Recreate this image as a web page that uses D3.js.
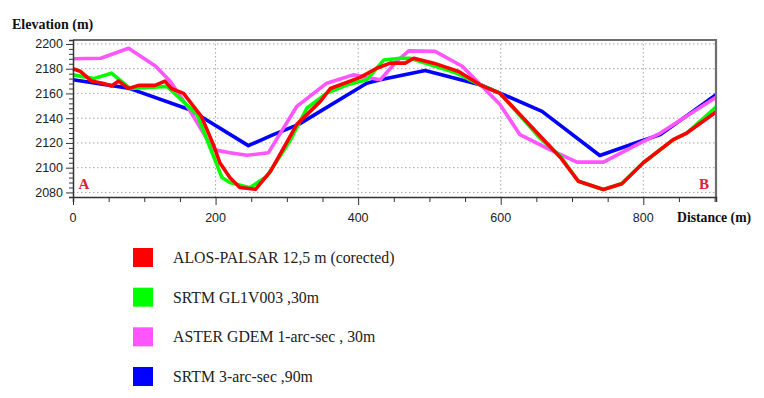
<!DOCTYPE html>
<html>
<head>
<meta charset="utf-8">
<script src="https://d3js.org/d3.v7.min.js"></script>
<style>
  body { margin: 0; background: #fff; }
  svg { display: block; }
</style>
</head>
<body>
<div id="my_profile"></div>
<script>

// ======================= //
// DATA
// ======================= //

// ALOS-PALSAR (red)
var alosDist = [0, 10, 26, 43, 54, 64, 78, 92, 115, 129, 138, 155, 180, 197, 206, 220, 234, 256, 277, 314, 347, 361, 403, 426, 445, 466, 478, 506, 541, 571, 599, 684, 709, 744, 770, 800, 842, 861, 902]
var alosElev = [2180, 2178, 2170, 2168, 2166, 2170, 2164, 2166.5, 2166.5, 2170, 2164, 2160, 2141.5, 2118.6, 2104, 2092, 2084, 2082.5, 2097, 2135, 2153.6, 2164, 2173, 2180.4, 2184.5, 2184.5, 2188.5, 2184.5, 2177.8, 2167, 2160, 2108, 2089, 2082.4, 2087, 2104, 2122.7, 2128, 2145]

// SRTM GL1 (green)
var gl1Dist = [0, 29, 54, 80, 132, 174, 209, 220, 248, 272, 304, 328, 356, 385, 412, 436, 459, 473, 538, 571, 599, 655, 684, 709, 744, 770, 800, 842, 861, 902]
var gl1Elev = [2175, 2172, 2176.4, 2164, 2165.7, 2143, 2092, 2088, 2083.8, 2093, 2121.4, 2148, 2160.3, 2167, 2171, 2187, 2188.5, 2188.5, 2176.4, 2167, 2160.3, 2124, 2109, 2089, 2082.4, 2087.2, 2104, 2122.7, 2128, 2149]

// ASTER GDEM (magenta)
var asterDist = [0, 39, 78, 116, 136, 162, 197, 220, 244, 274, 314, 356, 393, 431, 454, 471, 508, 546, 599, 627, 669, 707, 744, 796, 824, 902]
var asterElev = [2188, 2188.5, 2196.5, 2182, 2170, 2148, 2114.6, 2112, 2110, 2112, 2149.6, 2168.3, 2175, 2171, 2186, 2194.4, 2194, 2182, 2151, 2126.7, 2114.6, 2104.5, 2104.5, 2120, 2128, 2157]

// SRTM 3-arc-sec (blue)
var srtm3Dist = [0, 78, 164, 246, 281, 316, 412, 431, 494, 571, 599, 658, 739, 796, 824, 902]
var srtm3Elev = [2171, 2164.3, 2146.8, 2117.8, 2126.7, 2134.8, 2168.3, 2171, 2178.6, 2167, 2160.3, 2145.5, 2109.8, 2121.4, 2126.7, 2159]

// Legend
var legendLabels = ["ALOS-PALSAR 12,5 m (corected)", "SRTM GL1V003 ,30m", "ASTER GDEM 1-arc-sec , 30m", "SRTM 3-arc-sec ,90m"]
var legendColors = ["#ff0000", "#00ff00", "#ff55ff", "#0000ff"]

// Ticks
var xTickPos = [0, 200, 400, 600, 800]
var yTickPos = [2080, 2100, 2120, 2140, 2160, 2180, 2200]

// drawing order: blue, magenta, green, red on top
var series = [
  {dist: srtm3Dist, elev: srtm3Elev, color: legendColors[3]},
  {dist: asterDist, elev: asterElev, color: legendColors[2]},
  {dist: gl1Dist, elev: gl1Elev, color: legendColors[1]},
  {dist: alosDist, elev: alosElev, color: legendColors[0]}
]

// ======================= //
// SVG AREA
// ======================= //

var margin = {top: 40, right: 48, bottom: 201, left: 73},
    width = 764 - margin.left - margin.right,
    height = 398 - margin.top - margin.bottom;

var root = d3.select("#my_profile")
  .append("svg")
    .attr("width", 764)
    .attr("height", 398)

var svg = root.append("g")
    .attr("transform", "translate(" + margin.left + "," + margin.top + ")");

var x = d3.scaleLinear()
  .domain([0, 902])
  .range([0, width])

var y = d3.scaleLinear()
  .domain([2076.3, 2203.2])
  .range([height, 0])

// ======================= //
// GRID
// ======================= //

svg.selectAll("hGrid")
  .data(yTickPos)
  .enter()
  .append("line")
    .attr("x1", 0)
    .attr("x2", width)
    .attr("y1", function(d) { return y(d) })
    .attr("y2", function(d) { return y(d) })
    .attr("stroke", "#a8a8a8")
    .attr("stroke-width", 1)
    .style("stroke-dasharray", "1.5, 2.5")

svg.selectAll("vGrid")
  .data(xTickPos.slice(1))
  .enter()
  .append("line")
    .attr("x1", function(d) { return x(d) })
    .attr("x2", function(d) { return x(d) })
    .attr("y1", 0)
    .attr("y2", height)
    .attr("stroke", "#a8a8a8")
    .attr("stroke-width", 1)
    .style("stroke-dasharray", "1.5, 2.5")

// ======================= //
// LINES
// ======================= //

var line = d3.line()
  .x(function(d) { return x(d[0]) })
  .y(function(d) { return y(d[1]) })

svg.selectAll("profiles")
  .data(series)
  .enter()
  .append("path")
    .attr("d", function(s) { return line(d3.zip(s.dist, s.elev)) })
    .attr("fill", "none")
    .attr("stroke", function(s) { return s.color })
    .attr("stroke-width", 3.6)
    .attr("stroke-linejoin", "round")

// ======================= //
// FRAME AND AXES
// ======================= //

// top and right border
svg.append("path")
    .attr("d", "M0,0H" + width + "V" + height)
    .attr("fill", "none")
    .attr("stroke", "#6e6e6e")
    .attr("stroke-width", 2.2)

var tickFont = "'Liberation Sans Narrow', 'Arial Narrow', 'Liberation Sans', sans-serif"

var yAxis = svg.append("g")
  .call(d3.axisLeft(y).tickValues(d3.range(2080, 2204, 4)).tickSize(4).tickFormat(""))
yAxis.select(".domain").attr("stroke", "#333").attr("stroke-width", 1.5)
yAxis.selectAll(".tick line").attr("stroke", "#333")
  .attr("x2", function(d) { return d % 20 == 0 ? -7 : -4 })

svg.selectAll("yLabels")
  .data(yTickPos)
  .enter()
  .append("text")
    .attr("x", -10)
    .attr("y", function(d) { return y(d) + 4.5 })
    .text(function(d) { return d })
    .style("font-family", tickFont)
    .style("font-size", "12.5px")
    .style("fill", "#222")
    .style("text-anchor", "end")

var xAxis = svg.append("g")
  .attr("transform", "translate(0," + height + ")")
  .call(d3.axisBottom(x).tickValues(d3.range(0, 901, 50)).tickSize(5).tickFormat(""))
xAxis.select(".domain").attr("stroke", "#333").attr("stroke-width", 1.5)
xAxis.selectAll(".tick line").attr("stroke", "#333")
  .attr("y2", function(d) { return d % 200 == 0 ? 8 : 5 })

svg.selectAll("xLabels")
  .data(xTickPos)
  .enter()
  .append("text")
    .attr("x", function(d) { return x(d) })
    .attr("y", height + 25)
    .text(function(d) { return d })
    .style("font-family", tickFont)
    .style("font-size", "12.5px")
    .style("fill", "#222")
    .style("text-anchor", "middle")

// ======================= //
// TITLES, A / B
// ======================= //

root.append("text")
    .attr("x", 12)
    .attr("y", 29)
    .text("Elevation (m)")
    .style("font-family", "'Liberation Serif', 'Times New Roman', serif")
    .style("font-weight", "bold")
    .style("font-size", "14px")
    .style("fill", "#111")

root.append("text")
    .attr("x", 677)
    .attr("y", 221.5)
    .text("Distance (m)")
    .style("font-family", "'Liberation Serif', 'Times New Roman', serif")
    .style("font-weight", "bold")
    .style("font-size", "13.7px")
    .style("fill", "#111")

svg.selectAll("endLabels")
  .data([["A", 78.5], ["B", 699]])
  .enter()
  .append("text")
    .attr("x", function(d) { return d[1] - margin.left })
    .attr("y", 189.3 - margin.top)
    .text(function(d) { return d[0] })
    .style("font-family", "'Liberation Serif', 'Times New Roman', serif")
    .style("font-weight", "bold")
    .style("font-size", "15px")
    .style("fill", "#e0202e")

// ======================= //
// LEGEND
// ======================= //

var legendY = d3.scalePoint()
  .domain(legendLabels)
  .range([257.5, 376.5])

root.selectAll("legendBoxes")
  .data(legendLabels)
  .enter()
  .append("rect")
    .attr("x", 133)
    .attr("y", function(d) { return legendY(d) - 9.5 })
    .attr("width", 20)
    .attr("height", 19)
    .attr("fill", function(d, i) { return legendColors[i] })

root.selectAll("legendText")
  .data(legendLabels)
  .enter()
  .append("text")
    .attr("x", 173)
    .attr("y", function(d) { return legendY(d) + 5.5 })
    .text(function(d) { return d })
    .style("font-family", "'Liberation Serif', 'Times New Roman', serif")
    .style("font-size", "15.8px")
    .style("fill", "#222")

</script>
</body>
</html>
